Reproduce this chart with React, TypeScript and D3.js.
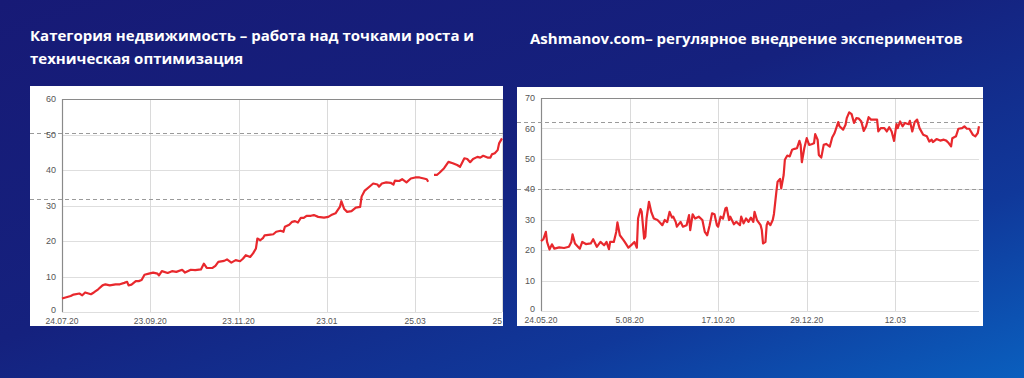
import React from "react";
import * as d3 from "d3";

// ---------- DATA ----------
const leftStart = "2020-07-24";
const leftEndDay = 304;
const leftDays = [0,6,8,12,14,16,20,22,25,28,30,33,37,40,43,45,46,48,51,53,55,57,60,63,66,67,69,73,76,79,83,85,89,92,96,98,100,104,106,108,112,114,117,120,123,125,127,130,132,134,135,137,139,140,144,146,148,151,153,154,157,159,161,163,165,167,169,172,174,177,181,184,186,189,190,192,193,195,197,200,203,206,207,209,213,215,218,219,221,224,227,229,230,233,235,238,241,244,247,250,252,253,255,257,259,261,264,267,270,273,275,276,278,280,282,284,287,289,291,294,296,297,299,301,302,303,304];
const leftValues: (number | null)[] = [3.8,4.5,4.9,5.2,4.7,5.5,5.0,5.5,6.4,7.5,7.8,7.5,7.8,7.8,8.2,8.5,7.5,7.7,8.7,8.7,9.0,10.5,10.8,11.1,10.8,10.3,11.5,11.0,11.5,11.3,11.9,11.1,11.9,11.8,12.0,13.6,12.4,12.4,13.0,14.1,14.4,14.8,13.9,14.6,14.3,15.0,16.0,15.5,16.5,17.9,20.7,20.2,20.9,21.6,21.8,21.9,22.6,22.9,22.6,24.0,24.6,25.4,25.6,25.2,26.5,26.5,27.1,27.1,27.3,26.8,26.6,26.8,27.3,27.8,28.4,29.6,31.2,29.0,28.2,28.4,29.4,29.6,32.5,34.1,35.5,36.2,35.9,35.3,36.2,36.5,36.4,35.9,37.0,36.9,37.4,36.5,37.6,37.9,37.9,37.6,37.4,36.7,null,38.6,38.6,39.3,40.5,42.3,41.9,41.4,40.9,41.7,43.3,43.1,42.2,43.1,43.7,43.5,44.0,43.5,43.5,44.4,44.7,45.6,47.5,48.2,48.9];
const leftTickDays = [0, 61, 122, 183, 244, 304];
const leftTickLabels = ["24.07.20", "23.09.20", "23.11.20", "23.01", "25.03", "25"];
const leftYTicks = [0, 10, 20, 30, 40, 50, 60];
const leftRefLines = [50.5, 31.7];

const rightStart = "2020-05-24";
const rightEndDay = 361;
const rightDays = [0,2,4,5,7,9,11,15,19,23,25,26,28,31,32,34,37,41,43,46,49,52,54,56,57,60,62,63,65,68,69,72,75,77,79,80,82,83,85,86,87,89,91,93,96,98,100,102,104,106,108,109,111,112,115,117,120,122,123,125,127,130,133,135,137,139,141,143,145,146,148,150,152,153,155,156,159,161,164,165,167,169,171,173,175,176,178,181,182,183,185,186,187,189,191,192,194,195,197,198,200,201,203,205,207,209,211,213,214,215,217,219,221,223,225,226,228,229,231,233,235,238,240,242,245,246,249,251,252,254,256,258,260,262,264,266,268,270,272,274,277,278,280,283,285,287,289,291,293,294,296,298,300,303,304,306,308,310,312,315,318,320,322,323,326,329,332,334,336,338,339,342,344,347,349,351,353,356,358,360,361];
const rightValues = [23.0,23.6,26.0,22.7,20.2,21.9,20.5,20.9,20.7,21.1,22.7,25.2,22.2,20.9,20.5,22.7,22.0,22.2,23.6,21.1,22.7,21.6,22.7,20.3,22.7,22.7,26.0,29.1,24.9,23.3,22.7,20.8,21.9,22.7,20.8,30.4,33.5,32.6,23.8,24.4,30.4,35.9,32.4,30.4,29.9,29.1,28.2,29.9,29.2,32.6,30.7,31.0,29.3,27.7,29.3,27.7,28.2,31.5,26.6,31.8,30.4,31.0,29.9,26.0,24.9,28.2,32.1,31.8,28.2,27.7,31.0,30.4,33.7,34.0,29.9,31.0,28.5,29.3,28.2,31.0,28.8,30.4,29.3,30.7,29.3,32.6,29.9,28.2,26.6,22.2,22.7,28.2,29.3,28.2,29.9,31.9,39.2,42.5,43.4,40.3,44.7,49.7,51.1,50.8,53.0,53.3,53.5,55.9,54.6,48.9,53.5,56.8,54.6,54.8,55.1,58.1,56.3,51.3,50.4,54.6,54.9,54.0,57.0,58.5,62.1,60.7,59.6,61.2,63.4,65.3,64.7,61.8,63.4,63.2,62.3,59.2,60.7,63.7,62.9,62.9,62.9,59.0,60.1,60.1,59.0,60.4,59.0,55.9,61.4,60.1,62.3,60.7,61.8,61.4,62.5,59.0,62.1,62.9,60.1,57.9,57.4,55.7,56.3,55.5,56.5,56.0,56.3,56.0,55.2,54.1,56.8,57.4,59.9,60.1,60.7,59.9,59.9,57.9,57.4,58.5,60.7];
const rightTickDays = [0, 73, 146, 219, 292];
const rightTickLabels = ["24.05.20", "5.08.20", "17.10.20", "29.12.20", "12.03"];
const rightYTicks = [0, 10, 20, 30, 40, 50, 60, 70];
const rightRefLines = [62, 40];

const leftTitle = ["Категория недвижимость – работа над точками роста и", "техническая оптимизация"];
const rightTitle = ["Ashmanov.com– регулярное внедрение экспериментов"];

// ---------- CHART ----------
type ChartProps = {
  start: string; endDay: number; days: number[]; values: (number | null)[];
  tickDays: number[]; tickLabels: string[]; yTicks: number[]; refLines: number[];
  panel: { x: number; y: number; w: number; h: number };
  plot: { x0: number; x1: number; y0: number; y1: number };
  yMax: number; lastLabelEnd?: boolean; xLabelY: number;
};

function Chart(p: ChartProps) {
  const start = new Date(p.start + "T00:00:00");
  const toDate = (d: number) => d3.timeDay.offset(start, d);
  const x = d3.scaleTime().domain([start, toDate(p.endDay)]).range([p.plot.x0, p.plot.x1]);
  const y = d3.scaleLinear().domain([0, p.yMax]).range([p.plot.y0, p.plot.y1]);
  const pts = p.days.map((d, i) => ({ d: toDate(d), v: p.values[i] }));
  const line = d3.line<{ d: Date; v: number | null }>()
    .defined((q) => q.v !== null)
    .x((q) => x(q.d))
    .y((q) => y(q.v as number))
    .curve(d3.curveLinear);
  const font = "'Liberation Sans', Arial, sans-serif";
  return (
    <g>
      <rect x={p.panel.x} y={p.panel.y} width={p.panel.w} height={p.panel.h} fill="#ffffff" />
      {p.yTicks.slice(0, -1).map((t) => (
        <line key={"h" + t} x1={p.plot.x0} x2={p.plot.x1} y1={Math.round(y(t)) + 0.5} y2={Math.round(y(t)) + 0.5} stroke="#dedede" strokeWidth={1} />
      ))}
      {p.tickDays.map((t) => (
        <line key={"v" + t} x1={Math.round(x(toDate(t))) + 0.5} x2={Math.round(x(toDate(t))) + 0.5} y1={p.plot.y1} y2={p.plot.y0} stroke="#dadada" strokeWidth={1} />
      ))}
      <line x1={p.plot.x0} x2={p.panel.x + p.panel.w} y1={Math.round(y(p.yMax)) + 0.5} y2={Math.round(y(p.yMax)) + 0.5} stroke="#8a8a8a" strokeWidth={1.2} />
      <line x1={p.plot.x0 + 0.5} x2={p.plot.x0 + 0.5} y1={p.plot.y1} y2={p.plot.y0} stroke="#8a8a8a" strokeWidth={1.2} />
      {p.refLines.map((r) => (
        <line key={"r" + r} x1={p.panel.x} x2={p.panel.x + p.panel.w} y1={Math.round(y(r)) + 0.5} y2={Math.round(y(r)) + 0.5} stroke="#9a9a9a" strokeWidth={1} strokeDasharray="4,3" />
      ))}
      {p.yTicks.map((t) => (
        <text key={"yl" + t} x={p.plot.x0 - 6} y={y(t) - (t === 0 ? 2 : 0)} dy="0.35em" textAnchor="end" fontSize={9} fill="#555" fontFamily={font}>{t}</text>
      ))}
      {p.tickDays.map((t, i) => (
        <text key={"xl" + t} x={x(toDate(t))} y={p.xLabelY} textAnchor={p.lastLabelEnd && i === p.tickDays.length - 1 ? "end" : "middle"} fontSize={8.5} fill="#555" fontFamily={font}>{p.tickLabels[i]}</text>
      ))}
      <path d={line(pts as any) || ""} fill="none" stroke="#e8282d" strokeWidth={2.2} strokeLinejoin="round" />
    </g>
  );
}

export default function App() {
  const titleFont = "'Open Sans', 'Noto Sans', sans-serif";
  return (
    <svg width={1024} height={378} style={{ position: "absolute", left: 0, top: 0, display: "block" }}>
      <defs>
        <linearGradient id="bg" x1="0" y1="0" x2="1" y2="1">
          <stop offset="0" stopColor="#171a76" />
          <stop offset="0.45" stopColor="#15217e" />
          <stop offset="0.75" stopColor="#10389a" />
          <stop offset="1" stopColor="#0a5fbe" />
        </linearGradient>
      </defs>
      <rect x={0} y={0} width={1024} height={378} fill="url(#bg)" />
      {leftTitle.map((t, i) => (
        <text key={"lt" + i} x={30} y={41 + i * 23} fill="#ffffff" fontSize={15} fontWeight={700} fontFamily={titleFont}>{t}</text>
      ))}
      {rightTitle.map((t, i) => (
        <text key={"rt" + i} x={530} y={44 + i * 23} fill="#ffffff" fontSize={15} fontWeight={700} fontFamily={titleFont}>{t}</text>
      ))}
      <Chart start={leftStart} endDay={leftEndDay} days={leftDays} values={leftValues}
        tickDays={leftTickDays} tickLabels={leftTickLabels} yTicks={leftYTicks} refLines={leftRefLines}
        panel={{ x: 30, y: 86, w: 473, h: 240 }} plot={{ x0: 62, x1: 502, y0: 312, y1: 99 }} yMax={60}
        lastLabelEnd={true} xLabelY={324} />
      <Chart start={rightStart} endDay={rightEndDay} days={rightDays} values={rightValues}
        tickDays={rightTickDays} tickLabels={rightTickLabels} yTicks={rightYTicks} refLines={rightRefLines}
        panel={{ x: 517, y: 87, w: 466, h: 239 }} plot={{ x0: 541, x1: 979, y0: 311, y1: 98 }} yMax={70}
        xLabelY={323} />
    </svg>
  );
}
